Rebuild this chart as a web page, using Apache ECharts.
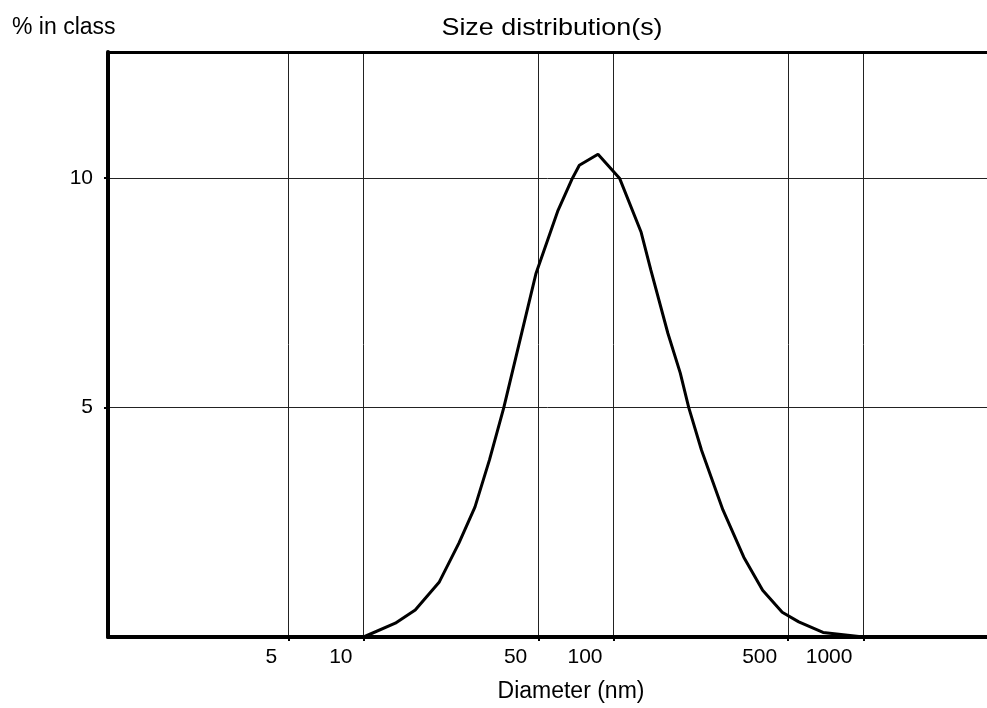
<!DOCTYPE html>
<html>
<head>
<meta charset="utf-8">
<script src="https://cdn.jsdelivr.net/npm/echarts@6/dist/echarts.min.js"></script>
<style>
html,body{margin:0;padding:0;background:#fff;}
#chart{width:987px;height:708px;}
</style>
</head>
<body>
<div id="chart"></div>
<script>
// Data
const diameters = [10, 13.4, 16.1, 20.1, 24.1, 27.9, 31.9, 36.4, 49, 60, 68.5, 73, 86.7, 105.7, 129, 141, 165, 185, 200, 225, 274, 332, 395, 473, 551, 689, 1000];
const percents  = [0, 0.30, 0.59, 1.20, 2.05, 2.83, 3.86, 5.0, 7.93, 9.30, 10.0, 10.28, 10.52, 10.0, 8.82, 8.0, 6.62, 5.75, 5.0, 4.07, 2.77, 1.74, 1.02, 0.54, 0.33, 0.10, 0];
const xTickValues = [5, 10, 50, 100, 500, 1000];
const yTickValues = [5, 10];
const yLabel = '% in class';
const chartTitle = 'Size distribution(s)';
const xLabel = 'Diameter (nm)';

const FONT = '"Liberation Sans", Arial, sans-serif';
const chart = echarts.init(document.getElementById('chart'), null, {renderer: 'canvas'});
const seriesData = diameters.map((d, i) => [d, percents[i]]);

chart.setOption({
  backgroundColor: '#ffffff',
  animation: false,
  grid: {left: 108, right: 0, top: 52, bottom: 71, containLabel: false},
  xAxis: [{
    type: 'log',
    logBase: 10,
    min: 0.95,
    max: 3120,
    position: 'bottom',
    axisLine: {show: true, lineStyle: {color: '#000', width: 4}},
    axisTick: {show: true, inside: false, length: 4, customValues: xTickValues, lineStyle: {color: '#000', width: 2}},
    axisLabel: {show: true, customValues: xTickValues, margin: 10, align: 'right', padding: [0, 11, 0, 0],
      formatter: v => String(Math.round(v)),
      color: '#000', fontSize: 21, fontFamily: FONT},
    splitLine: {show: true, lineStyle: {color: '#222', width: 1}},
    minorSplitLine: {show: false}
  }, {
    type: 'log',
    logBase: 10,
    min: 0.95,
    max: 3120,
    position: 'top',
    axisLine: {show: true, lineStyle: {color: '#000', width: 3}},
    axisTick: {show: false},
    axisLabel: {show: false},
    splitLine: {show: false}
  }],
  yAxis: {
    type: 'value',
    min: 0,
    max: 12.75,
    axisLine: {show: true, lineStyle: {color: '#000', width: 4}},
    axisTick: {show: true, inside: false, length: 4, customValues: yTickValues, lineStyle: {color: '#000', width: 2}},
    axisLabel: {show: true, customValues: yTickValues, margin: 15, color: '#000', fontSize: 21, fontFamily: FONT},
    splitLine: {show: true, lineStyle: {color: '#222', width: 1}}
  },
  series: [{
    type: 'line',
    xAxisIndex: 0,
    data: seriesData,
    showSymbol: false,
    smooth: false,
    lineStyle: {color: '#000', width: 3},
    z: 3
  }],
  graphic: [
    {type: 'text', left: 12, top: 16, style: {text: yLabel, fill: '#000', font: '23px ' + FONT}},
    {type: 'text', x: 552, y: 28, scaleX: 1.12, style: {text: chartTitle, fill: '#000', font: '24px ' + FONT, textAlign: 'center', textVerticalAlign: 'middle'}},
    {type: 'text', x: 571, y: 692, style: {text: xLabel, fill: '#000', font: '23px ' + FONT, textAlign: 'center', textVerticalAlign: 'middle'}}
  ]
});
</script>
</body>
</html>
